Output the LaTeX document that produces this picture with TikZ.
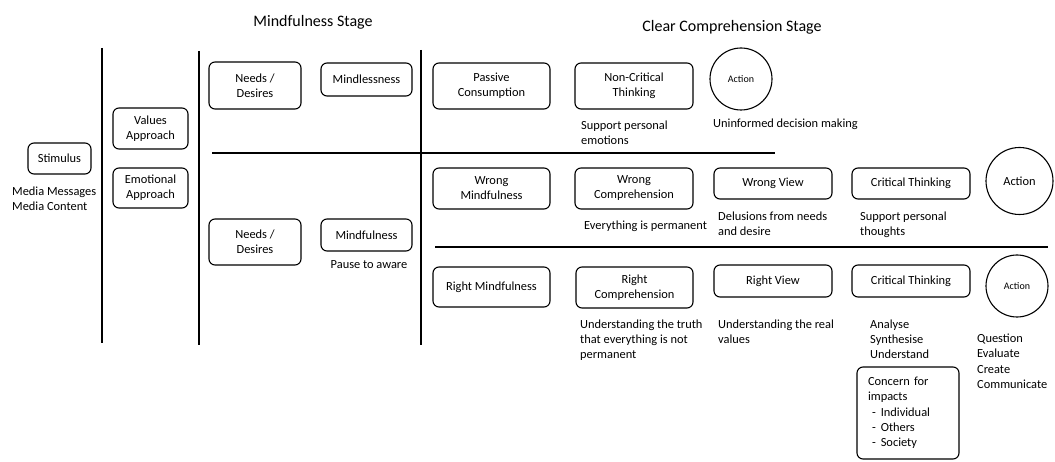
\documentclass[tikz,border=0pt]{standalone}
\usepackage{fontspec}
\setmainfont{Carlito}
\tikzset{
  body/.style={font=\fontsize{12.4}{15}\selectfont},
  stagetitle/.style={font=\fontsize{16}{19}\selectfont, anchor=base, inner sep=0},
  stepbox/.style={draw, line width=1.1pt, rounded corners=6pt, align=center, inner sep=0, body},
  actcircle/.style={draw, circle, line width=1.1pt, inner sep=0, body},
  % multi-line notes are placed by the baseline of their last line
  note/.style={anchor=base west, align=left, inner sep=0, body},
  divider/.style={line width=1.1pt},
}
\begin{document}
\begin{tikzpicture}[x=1pt, y=-1pt]
\useasboundingbox (0,0) rectangle (1055,462);

% stage titles
\node[stagetitle] (t1) at (313,27) {Mindfulness Stage};
\node[stagetitle] (t2) at (732,32) {Clear Comprehension Stage};

% dividers
\draw[divider] (102,48) -- (102,343);
\draw[divider] (199,51) -- (199,345);
\draw[divider] (421,50) -- (421,345);
\draw[divider] (212,153) -- (775,153);
\draw[divider] (435,247) -- (1048,247);

% input
\node[stepbox, minimum width=63, minimum height=31] (stim) at (59.5,158.5) {Stimulus};
\node[note] (media) at (12,211) {Media Messages\\Media Content};

% approaches
\node[stepbox, minimum width=75, minimum height=41] (values) at (150.5,128.5) {Values\\Approach};
\node[stepbox, minimum width=75, minimum height=40] (emo) at (150.5,188) {Emotional\\Approach};

% mindfulness stage
\node[stepbox, minimum width=92, minimum height=47] (nd1) at (255,85.5) {Needs /\\Desires};
\node[stepbox, minimum width=91, minimum height=33] (mindless) at (366.5,79.5) {Mindlessness};
\node[stepbox, minimum width=92, minimum height=46] (nd2) at (255,242) {Needs /\\Desires};
\node[stepbox, minimum width=91, minimum height=32] (mindful) at (366.5,235) {Mindfulness};
\node[anchor=base, inner sep=0, body] (pause) at (369,269) {Pause to aware};

% clear comprehension stage: first row
\node[stepbox, minimum width=117, minimum height=46] (passive) at (491.5,86) {Passive\\Consumption};
\node[stepbox, minimum width=118, minimum height=46] (noncrit) at (634,86) {Non-Critical\\Thinking};
\node[actcircle, minimum size=62, font=\fontsize{10}{12}\selectfont] (act1) at (741,79) {Action};
\node[note] (emotions) at (581,145) {Support personal\\emotions};
\node[note] (uninformed) at (713,128) {Uninformed decision making};

% second row
\node[stepbox, minimum width=117, minimum height=41] (wrongmind) at (491.5,188.5) {Wrong\\Mindfulness};
\node[stepbox, minimum width=118, minimum height=41] (wrongcomp) at (634,188.5) {Wrong\\Comprehension};
\node[stepbox, minimum width=118, minimum height=31] (wrongview) at (773,183.5) {Wrong View};
\node[stepbox, minimum width=118, minimum height=31] (crit1) at (911,183.5) {Critical Thinking};
\node[actcircle, minimum size=67] (act2) at (1019.5,181) {Action};
\node[note] (permanent) at (584,230) {Everything is permanent};
\node[note] (delusions) at (718,236) {Delusions from needs\\and desire};
\node[note] (thoughts) at (860,236) {Support personal\\thoughts};

% third row
\node[stepbox, minimum width=117, minimum height=40] (rightmind) at (491.5,287) {Right Mindfulness};
\node[stepbox, minimum width=117, minimum height=41] (rightcomp) at (634.5,287.5) {Right\\Comprehension};
\node[stepbox, minimum width=118, minimum height=32] (rightview) at (773,281) {Right View};
\node[stepbox, minimum width=118, minimum height=32] (crit2) at (911,281) {Critical Thinking};
\node[actcircle, minimum size=62, font=\fontsize{10}{12}\selectfont] (act3) at (1017,286) {Action};
\node[note] (truth) at (580,359) {Understanding the truth\\that everything is not\\permanent};
\node[note] (real) at (718,344) {Understanding the real\\values};
\node[note] (analyse) at (870,359) {Analyse\\Synthesise\\Understand};
\node[note] (question) at (977,388) {Question\\Evaluate\\Create\\Communicate};
\node[stepbox, align=left, minimum width=102, minimum height=92, text width=80,
      font=\fontsize{12.4}{15.3}\selectfont] (concern) at (908,413)
  {Concern for\\impacts\\\hspace*{4pt}-\hspace{5pt}Individual\\\hspace*{4pt}-\hspace{5pt}Others\\\hspace*{4pt}-\hspace{5pt}Society};
\end{tikzpicture}
\end{document}
